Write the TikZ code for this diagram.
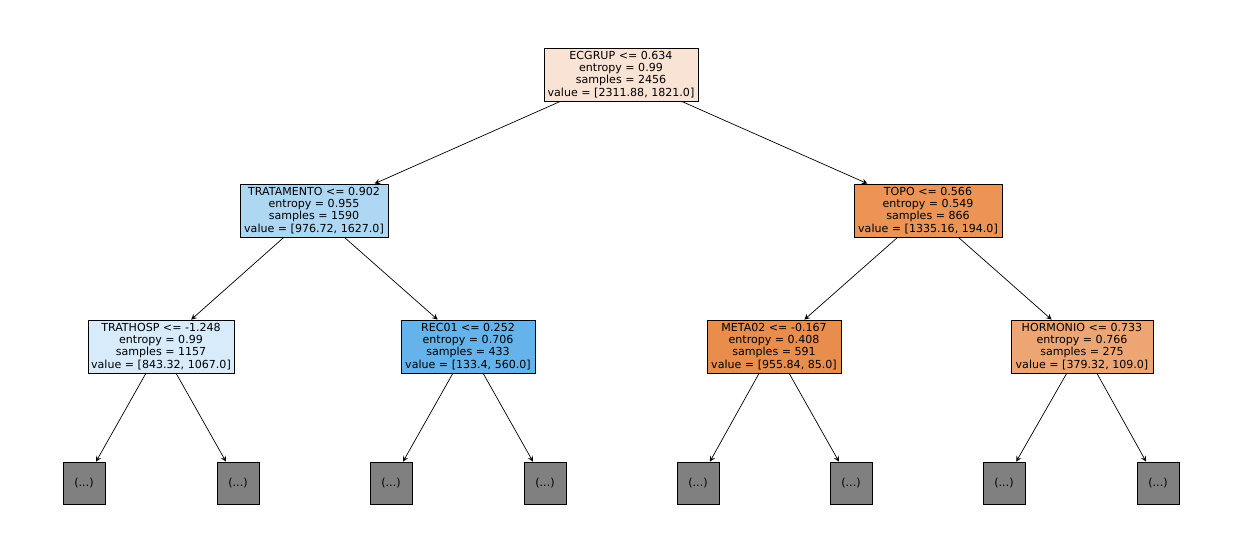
\documentclass[tikz,border=0pt]{standalone}
\usepackage{fontspec}
\setmainfont{DejaVu Sans}
\begin{document}
\begin{tikzpicture}[x=0.02cm,y=-0.02cm,
  tn/.style={draw,line width=0.4pt,align=center,font=\fontsize{6.3}{6.9}\selectfont,inner sep=1.5pt,minimum height=53*0.02cm},
  leaf/.style={draw,fill=gray!100!white,fill=lgray,minimum width=42*0.02cm,minimum height=42*0.02cm,font=\fontsize{6.3}{6.9}\selectfont,inner sep=0pt},
  ed/.style={->,>=stealth,line width=0.4pt}]
\definecolor{lgray}{HTML}{808080}
\definecolor{c0}{HTML}{F9E3D4}
\definecolor{c1}{HTML}{AED7F4}
\definecolor{c2}{HTML}{EB9456}
\definecolor{c3}{HTML}{D7EBFB}
\definecolor{c4}{HTML}{65B3EB}
\definecolor{c5}{HTML}{E88D4C}
\definecolor{c6}{HTML}{EDA673}
\useasboundingbox (0,0) rectangle (1242,558);
\node[tn,fill=c0,minimum width=154*0.02cm] (r) at (621,74.5) {ECGRUP <= 0.634\\entropy = 0.99\\samples = 2456\\value = [2311.88, 1821.0]};
\node[tn,fill=c1,minimum width=148*0.02cm] (a) at (314,210.5) {TRATAMENTO <= 0.902\\entropy = 0.955\\samples = 1590\\value = [976.72, 1627.0]};
\node[tn,fill=c2,minimum width=148*0.02cm] (b) at (928,210.5) {TOPO <= 0.566\\entropy = 0.549\\samples = 866\\value = [1335.16, 194.0]};
\node[tn,fill=c3,minimum width=146*0.02cm] (aa) at (161,346.5) {TRATHOSP <= -1.248\\entropy = 0.99\\samples = 1157\\value = [843.32, 1067.0]};
\node[tn,fill=c4,minimum width=134*0.02cm] (ab) at (468,346.5) {REC01 <= 0.252\\entropy = 0.706\\samples = 433\\value = [133.4, 560.0]};
\node[tn,fill=c5,minimum width=134*0.02cm] (ba) at (774,346.5) {META02 <= -0.167\\entropy = 0.408\\samples = 591\\value = [955.84, 85.0]};
\node[tn,fill=c6,minimum width=142*0.02cm] (bb) at (1082,346.5) {HORMONIO <= 0.733\\entropy = 0.766\\samples = 275\\value = [379.32, 109.0]};
\foreach \n/\x in {l1/84,l2/238,l3/391,l4/545,l5/698,l6/851,l7/1004,l8/1158}
  \node[leaf] (\n) at (\x,483) {(...)};
\draw[ed] (r) -- (a); \draw[ed] (r) -- (b);
\draw[ed] (a) -- (aa); \draw[ed] (a) -- (ab);
\draw[ed] (b) -- (ba); \draw[ed] (b) -- (bb);
\draw[ed] (aa) -- (l1); \draw[ed] (aa) -- (l2);
\draw[ed] (ab) -- (l3); \draw[ed] (ab) -- (l4);
\draw[ed] (ba) -- (l5); \draw[ed] (ba) -- (l6);
\draw[ed] (bb) -- (l7); \draw[ed] (bb) -- (l8);
\end{tikzpicture}
\end{document}
